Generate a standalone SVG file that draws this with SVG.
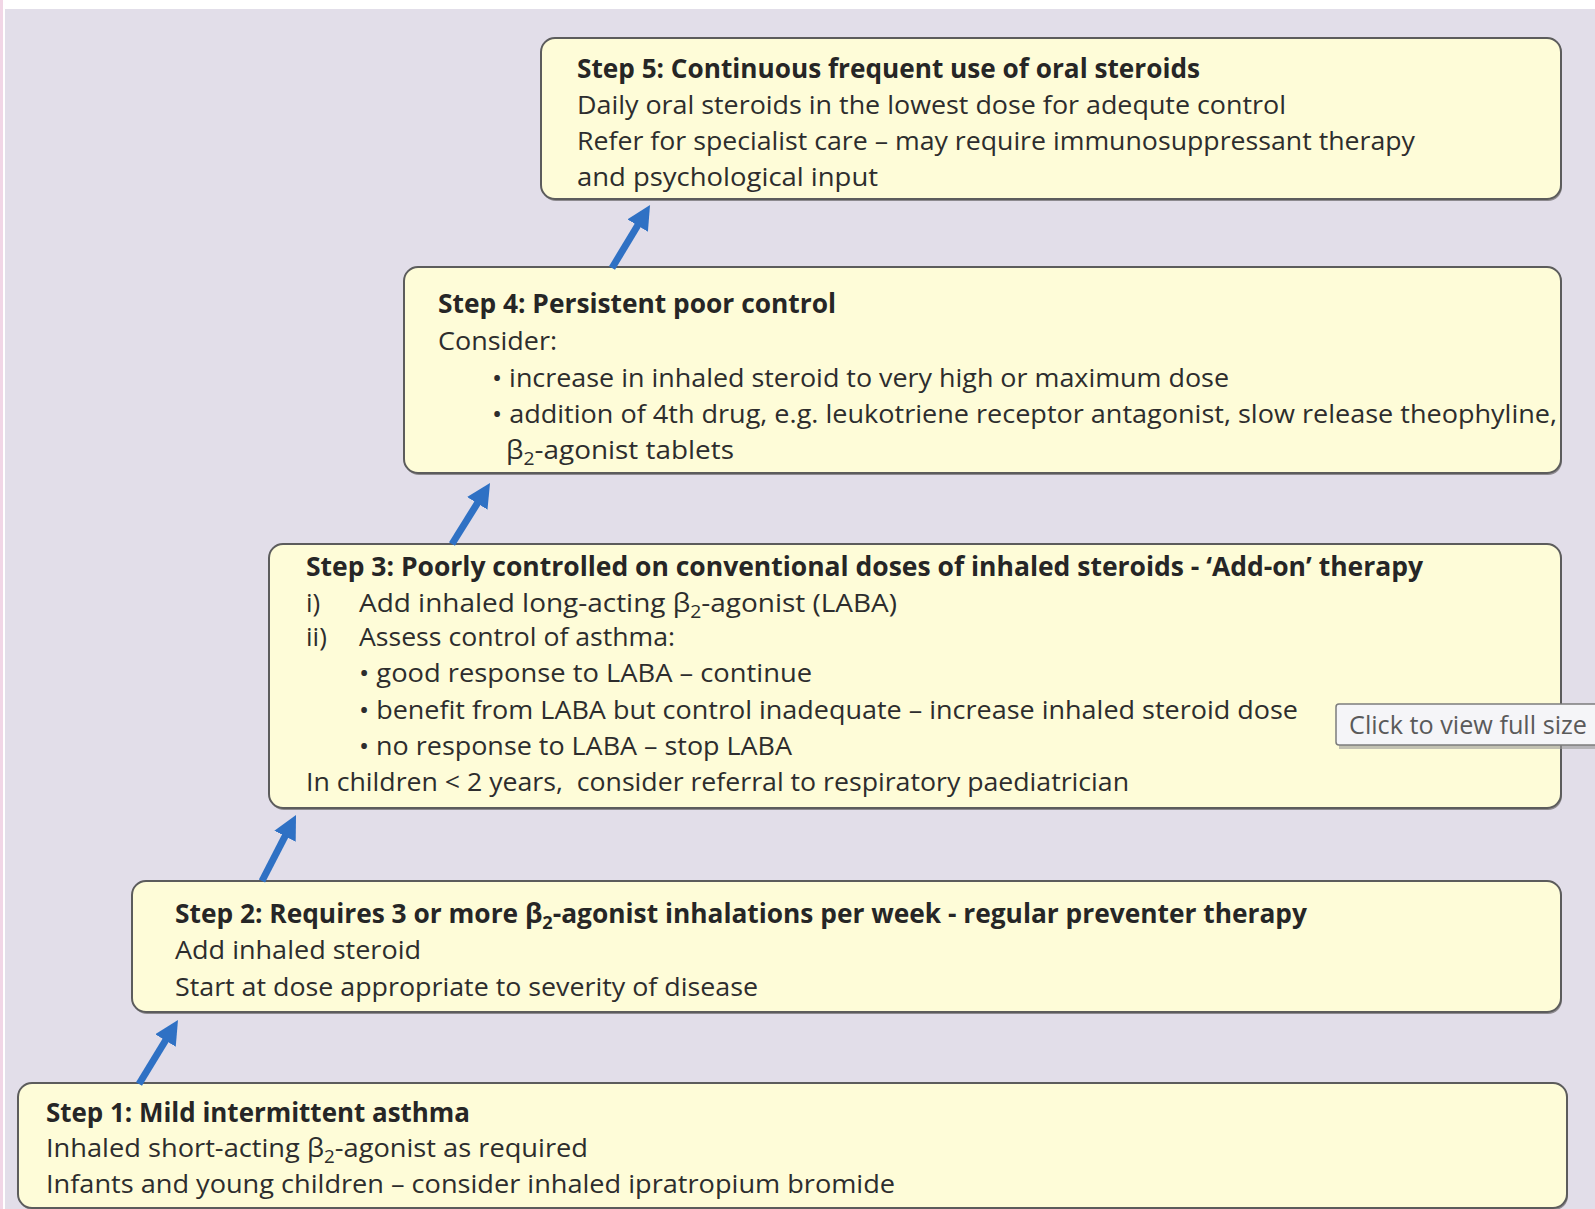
<svg xmlns="http://www.w3.org/2000/svg" width="1595" height="1209" viewBox="0 0 1595 1209">
<defs>
<style>
.box{fill:#fefcd8;stroke:#5c5c5c;stroke-width:2}
.shadow{fill:#8d8a8f}
text{font-family:"Open Sans","Liberation Sans",sans-serif;font-size:26px;fill:#2d2d2d}
.b{font-weight:bold;fill:#262626}
.sub{font-size:18px}
.arrow{stroke:#2f71c4;stroke-width:7;fill:none}
.tip{fill:#2f71c4}
.tt{font-family:"Open Sans","DejaVu Sans",sans-serif;font-size:26px;fill:#5a5a5a}
</style>
<marker id="ah" viewBox="0 0 24 24" refX="10" refY="12" markerWidth="24" markerHeight="24" markerUnits="userSpaceOnUse" orient="auto">
<path class="tip" d="M0,0 L24,12 L0,24 z"/>
</marker>
</defs>
<rect x="0" y="0" width="1595" height="1209" fill="#ffffff"/>
<rect x="5" y="9" width="1590" height="1200" fill="#e2dee9"/>
<rect x="0" y="0" width="3" height="1209" fill="#f1d6e6"/>

<g id="step5">
<rect class="shadow" x="542" y="40" width="1020" height="161" rx="14"/>
<rect class="box" x="541" y="38" width="1020" height="161" rx="14"/>
<text class="b" x="577" y="78" textLength="623" lengthAdjust="spacingAndGlyphs">Step 5: Continuous frequent use of oral steroids</text>
<text x="577" y="114" textLength="709" lengthAdjust="spacingAndGlyphs">Daily oral steroids in the lowest dose for adequte control</text>
<text x="577" y="150" textLength="838" lengthAdjust="spacingAndGlyphs">Refer for specialist care – may require immunosuppressant therapy</text>
<text x="577" y="186" textLength="301" lengthAdjust="spacingAndGlyphs">and psychological input</text>
</g>

<g id="step4">
<rect class="shadow" x="405" y="269" width="1157" height="206" rx="14"/>
<rect class="box" x="404" y="267" width="1157" height="206" rx="14"/>
<text class="b" x="438" y="313" textLength="398" lengthAdjust="spacingAndGlyphs">Step 4: Persistent poor control</text>
<text x="438" y="350" textLength="119" lengthAdjust="spacingAndGlyphs">Consider:</text>
<text x="492" y="387" textLength="737" lengthAdjust="spacingAndGlyphs">• increase in inhaled steroid to very high or maximum dose</text>
<text x="492" y="423" textLength="1065" lengthAdjust="spacingAndGlyphs">• addition of 4th drug, e.g. leukotriene receptor antagonist, slow release theophyline,</text>
<text x="506" y="459" textLength="228" lengthAdjust="spacingAndGlyphs">β<tspan class="sub" dy="6">2</tspan><tspan dy="-6">-agonist tablets</tspan></text>
</g>

<g id="step3">
<rect class="shadow" x="270" y="546" width="1292" height="264" rx="14"/>
<rect class="box" x="269" y="544" width="1292" height="264" rx="14"/>
<text class="b" x="306" y="576" textLength="1117" lengthAdjust="spacingAndGlyphs">Step 3: Poorly controlled on conventional doses of inhaled steroids - ‘Add-on’ therapy</text>
<text x="306" y="612">i)</text>
<text x="359" y="612" textLength="538" lengthAdjust="spacingAndGlyphs">Add inhaled long-acting β<tspan class="sub" dy="6">2</tspan><tspan dy="-6">-agonist (LABA)</tspan></text>
<text x="306" y="646">ii)</text>
<text x="359" y="646" textLength="316" lengthAdjust="spacingAndGlyphs">Assess control of asthma:</text>
<text x="359" y="682" textLength="453" lengthAdjust="spacingAndGlyphs">• good response to LABA – continue</text>
<text x="359" y="719" textLength="939" lengthAdjust="spacingAndGlyphs">• benefit from LABA but control inadequate – increase inhaled steroid dose</text>
<text x="359" y="755" textLength="433" lengthAdjust="spacingAndGlyphs">• no response to LABA – stop LABA</text>
<text x="306" y="791" textLength="823" lengthAdjust="spacingAndGlyphs">In children &lt; 2 years,&#160; consider referral to respiratory paediatrician</text>
</g>

<g id="step2">
<rect class="shadow" x="133" y="883" width="1429" height="131" rx="14"/>
<rect class="box" x="132" y="881" width="1429" height="131" rx="14"/>
<text class="b" x="175" y="923" textLength="1132" lengthAdjust="spacingAndGlyphs">Step 2: Requires 3 or more β<tspan class="sub" dy="6">2</tspan><tspan dy="-6">-agonist inhalations per week - regular preventer therapy</tspan></text>
<text x="175" y="959" textLength="246" lengthAdjust="spacingAndGlyphs">Add inhaled steroid</text>
<text x="175" y="996" textLength="583" lengthAdjust="spacingAndGlyphs">Start at dose appropriate to severity of disease</text>
</g>

<g id="step1">
<rect class="shadow" x="19" y="1085" width="1549" height="125" rx="14"/>
<rect class="box" x="18" y="1083" width="1549" height="125" rx="14"/>
<text class="b" x="46" y="1122" textLength="424" lengthAdjust="spacingAndGlyphs">Step 1: Mild intermittent asthma</text>
<text x="46" y="1157" textLength="542" lengthAdjust="spacingAndGlyphs">Inhaled short-acting β<tspan class="sub" dy="6">2</tspan><tspan dy="-6">-agonist as required</tspan></text>
<text x="46" y="1193" textLength="849" lengthAdjust="spacingAndGlyphs">Infants and young children – consider inhaled ipratropium bromide</text>
</g>

<g id="connectors">
<line class="arrow" x1="139" y1="1084" x2="170.7" y2="1032" marker-end="url(#ah)"/>
<line class="arrow" x1="262" y1="881" x2="289.6" y2="827.4" marker-end="url(#ah)"/>
<line class="arrow" x1="452" y1="544" x2="482.6" y2="494.9" marker-end="url(#ah)"/>
<line class="arrow" x1="612" y1="268" x2="642.8" y2="217" marker-end="url(#ah)"/>
</g>

<g id="tooltip">
<rect x="1339" y="708" width="270" height="41" fill="#9a9a9a" opacity="0.6"/>
<rect x="1336" y="704" width="270" height="41" rx="3" fill="#f5f5f8" stroke="#7c7c7c" stroke-width="1.5"/>
<text class="tt" x="1349" y="734" textLength="238" lengthAdjust="spacingAndGlyphs">Click to view full size</text>
</g>
</svg>
